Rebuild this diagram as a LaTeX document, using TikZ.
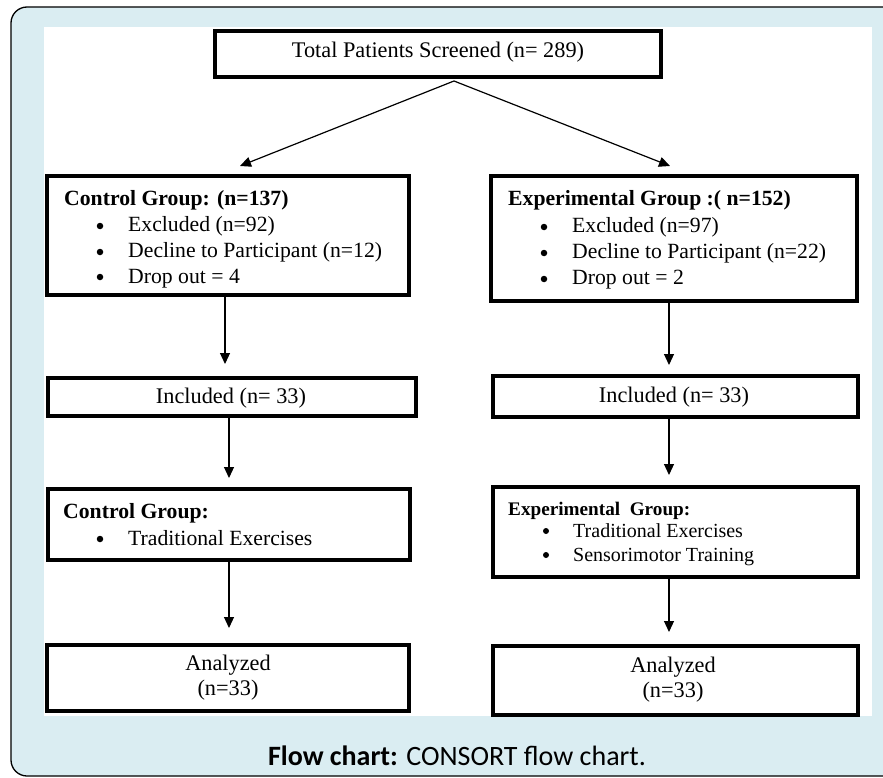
\documentclass[tikz,border=0pt]{standalone}
\usepackage{fontspec}
\setmainfont{Liberation Serif}
\newfontfamily\capfont{Carlito}
\usetikzlibrary{arrows.meta}
\definecolor{frameblue}{RGB}{218,237,242}
\newcommand\fsz{\fontsize{22.3}{26}\selectfont}
\newcommand\fsl{\fontsize{21.7}{26}\selectfont}
\newcommand\fsm{\fontsize{20}{24}\selectfont}
\tikzset{
  box/.style={draw=black, line width=4pt, fill=white, inner sep=0pt, rectangle},
  txt/.style={inner sep=0pt, font=\fsz},
  ltxt/.style={inner sep=0pt, anchor=base west, font=\fsl},
  stxt/.style={inner sep=0pt, anchor=base west, font=\fsm},
  arr/.style={line width=1.2pt, -{Triangle[length=11pt,width=10pt]}},
  dot/.style={circle, fill=black, inner sep=0pt, minimum size=6.5pt},
}
\begin{document}
\begin{tikzpicture}[x=1pt,y=-1pt]
\useasboundingbox (0,0) rectangle (883,778);
% frame
\begin{scope}
\clip (0,0) rectangle (883,778);
\draw[fill=frameblue, line width=1.3pt, rounded corners=16pt] (11,7) rectangle (900,776);
\end{scope}
\fill[white] (44,27) rectangle (872,716);

% boxes
\node[box, minimum width=446pt, minimum height=46pt] (total) at (438,54) {};
\node[box, minimum width=362pt, minimum height=119pt] (cgA) at (228,235.5) {};
\node[box, minimum width=366pt, minimum height=125pt] (egA) at (674,238.5) {};
\node[box, minimum width=368pt, minimum height=38pt] (inL) at (232,397) {};
\node[box, minimum width=365pt, minimum height=41pt] (inR) at (675.5,396.5) {};
\node[box, minimum width=362pt, minimum height=71pt] (cgB) at (229,524.5) {};
\node[box, minimum width=365pt, minimum height=90pt] (egB) at (675.5,532) {};
\node[box, minimum width=362pt, minimum height=66pt] (anL) at (228,678) {};
\node[box, minimum width=365pt, minimum height=69pt] (anR) at (675.5,680.5) {};

% texts
\node[txt] (tTotal) at (438,52) {Total Patients Screened (n= 289)};

\node[ltxt] (tcgA0) at (64,205) {\textbf{Control Group: (n=137)}};
\node[dot] (bcgA1) at (100,226) {};
\node[dot] (bcgA2) at (100,252) {};
\node[dot] (bcgA3) at (100,277) {};
\node[ltxt] (tcgA1) at (128,231) {Excluded (n=92)};
\node[ltxt] (tcgA2) at (128,257) {Decline to Participant (n=12)};
\node[ltxt] (tcgA3) at (128,283) {Drop out = 4};

\node[ltxt] (tegA0) at (508,206) {\textbf{Experimental Group :( n=152)}};
\node[dot] (begA1) at (544,227) {};
\node[dot] (begA2) at (544,253) {};
\node[dot] (begA3) at (544,279) {};
\node[ltxt] (tegA1) at (572,232) {Excluded (n=97)};
\node[ltxt] (tegA2) at (572,258) {Decline to Participant (n=22)};
\node[ltxt] (tegA3) at (572,284) {Drop out = 2};

\node[txt] (tinL) at (231,398) {Included (n= 33)};
\node[txt] (tinR) at (674,397) {Included (n= 33)};

\node[ltxt] (tcgB0) at (63,518) {\textbf{Control Group:}};
\node[dot] (bcgB1) at (100,539) {};
\node[ltxt] (tcgB1) at (128,545) {Traditional Exercises};

\node[stxt, font=\fontsize{19.2}{22}\selectfont] (tegB0) at (508,515) {\textbf{Experimental~ Group:}};
\node[dot, minimum size=6pt] (begB1) at (546,531) {};
\node[dot, minimum size=6pt] (begB2) at (546,555) {};
\node[stxt] (tegB1) at (573,537) {Traditional Exercises};
\node[stxt] (tegB2) at (573,561) {Sensorimotor Training};

\node[txt, align=center, font=\fontsize{22.3}{25}\selectfont] (tanL) at (228,678) {Analyzed\\(n=33)};
\node[txt, align=center, font=\fontsize{22.3}{25}\selectfont] (tanR) at (673,680) {Analyzed\\(n=33)};

% caption
\node[inner sep=0pt, anchor=base, font=\capfont\fontsize{28}{32}\selectfont] (cap) at (457,765) {\textbf{Flow chart:} CONSORT flow chart.};

% connectors
\coordinate (apex) at (454,81);
\coordinate (tipL) at (240,166);
\coordinate (tipR) at (670,166);
\draw[arr] (apex) -- (tipL);
\draw[arr] (apex) -- (tipR);

\coordinate (xL1) at (225,0);
\coordinate (xL2) at (229,0);
\coordinate (xR) at (669,0);
\draw[arr, shorten >=12pt] (xL1 |- cgA.south) -- (xL1 |- inL.north);
\draw[arr, shorten >=9pt] (xL2 |- inL.south) -- (xL2 |- cgB.north);
\draw[arr, shorten >=15pt] (xL2 |- cgB.south) -- (xL2 |- anL.north);
\draw[arr, shorten >=9pt] (xR |- egA.south) -- (xR |- inR.north);
\draw[arr, shorten >=10pt] (xR |- inR.south) -- (xR |- egB.north);
\draw[arr, shorten >=12pt] (xR |- egB.south) -- (xR |- anR.north);
\end{tikzpicture}
\end{document}
